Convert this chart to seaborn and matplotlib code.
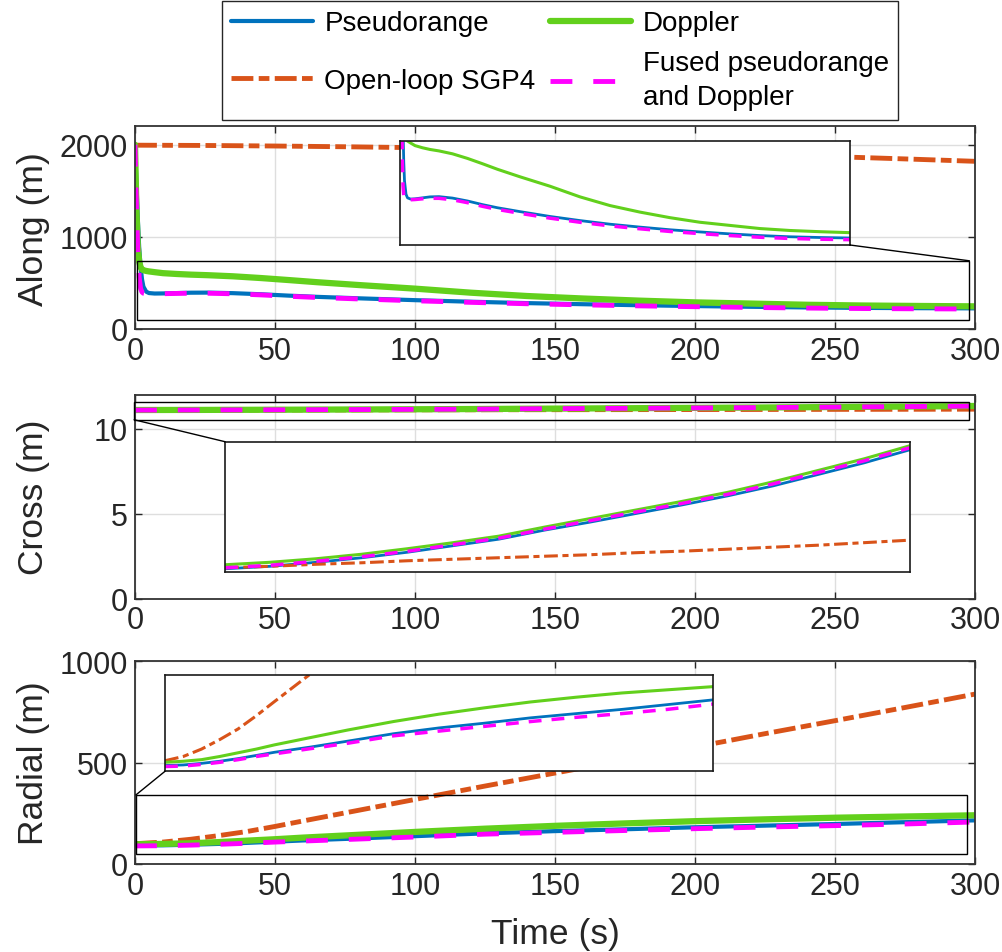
import seaborn as sns
import matplotlib.pyplot as plt
from matplotlib.patches import Rectangle, ConnectionPatch

# ---- Along-track error (m) ----
t_along = [0, 0.5, 1, 1.5, 2, 2.5, 3, 4, 5, 7, 10, 15, 20, 26, 35, 45, 55, 65, 80,
           100, 120, 140, 160, 180, 200, 220, 240, 260, 280, 300]
along_pr = [2000, 1600, 1200, 880, 680, 540, 460, 405, 390, 385, 386, 390, 394, 395, 389,
            377, 362, 349, 333, 313, 296, 281, 269, 258, 249, 241, 234, 229, 226, 224]
along_dop = [2000, 1300, 900, 730, 670, 648, 638, 630, 625, 617, 606, 597, 590, 584, 572,
             553, 531, 508, 477, 438, 394, 358, 331, 308, 289, 276, 263, 255, 250, 246]
along_fused = [2000, 1350, 850, 560, 440, 400, 388, 382, 381, 382, 383, 386, 388, 388, 382,
               370, 355, 342, 326, 306, 289, 274, 262, 251, 242, 234, 227, 222, 219, 217]
t_along_sgp4 = [0, 25, 50, 75, 100, 125, 150, 175, 200, 225, 250, 275, 300]
along_sgp4 = [1995, 1992, 1986, 1978, 1968, 1957, 1944, 1929, 1911, 1892, 1870, 1846, 1820]

# ---- Cross-track error (m) ----
t_cross = [0, 20, 40, 60, 80, 100, 120, 140, 160, 180, 200, 220, 240, 260, 280, 300]
cross_fused = [11.109, 11.114, 11.122, 11.131, 11.142, 11.155, 11.168, 11.186, 11.203,
               11.220, 11.237, 11.255, 11.276, 11.299, 11.322, 11.348]
cross_dop = [11.115, 11.120, 11.127, 11.136, 11.147, 11.159, 11.172, 11.190, 11.207,
             11.224, 11.241, 11.259, 11.280, 11.303, 11.326, 11.352]
cross_pr = [11.107, 11.112, 11.120, 11.129, 11.140, 11.153, 11.166, 11.184, 11.200,
            11.217, 11.234, 11.252, 11.272, 11.295, 11.318, 11.344]
cross_sgp4 = [11.109, 11.112, 11.116, 11.119, 11.123, 11.126, 11.129, 11.132, 11.135,
              11.139, 11.142, 11.146, 11.150, 11.154, 11.159, 11.164]

# ---- Radial error (m) ----
t_radial = [0, 10, 20, 30, 40, 50, 60, 80, 100, 125, 150, 175, 200, 225, 250, 275, 300]
radial_pr = [91, 92, 95, 99, 104, 110, 116, 126, 137, 151, 162, 171, 181, 189, 197, 206, 215]
radial_dop = [97, 99, 102, 108, 115, 122, 130, 144, 158, 174, 188, 200, 211, 220, 228, 234, 240]
radial_fused = [89, 90, 93, 97, 102, 108, 113, 123, 133, 147, 156, 165, 174, 182, 189, 197, 207]
radial_sgp4 = [100, 108, 122, 140, 160, 185, 212, 265, 318, 384, 448, 512, 576, 642, 706, 771, 837]

xticks = [0, 50, 100, 150, 200, 250, 300]
labels = ['Pseudorange', 'Open-loop SGP4', 'Doppler', 'Fused pseudorange\nand Doppler']

sns.set_theme(style='white')
plt.rcParams['font.family'] = ['Liberation Sans', 'DejaVu Sans']

C_PR, C_SGP, C_DOP, C_FUS = '#0072BD', '#D95319', '#62D01C', '#FF00FF'
main_style = {
    'pr': dict(color=C_PR, linewidth=3.0, linestyle='-'),
    'sgp': dict(color=C_SGP, linewidth=3.5, linestyle=(0, (4.5, 1.1, 2.2, 1.1))),
    'dop': dict(color=C_DOP, linewidth=4.5, linestyle='-'),
    'fus': dict(color=C_FUS, linewidth=3.5, linestyle=(0, (4.5, 4.3))),
}
inset_style = {
    'pr': dict(color=C_PR, linewidth=2.0, linestyle='-'),
    'sgp': dict(color=C_SGP, linewidth=2.2, linestyle=(0, (4.5, 1.5, 2.0, 1.5))),
    'dop': dict(color=C_DOP, linewidth=2.2, linestyle='-'),
    'fus': dict(color=C_FUS, linewidth=2.5, linestyle=(0, (3.7, 2.9))),
}

W, H = 1003, 953
fig = plt.figure(figsize=(W / 100, H / 100), dpi=100)


def px_rect(x0, y0, x1, y1):
    return [x0 / W, 1 - y1 / H, (x1 - x0) / W, (y1 - y0) / H]


def draw_all(ax, series, styles):
    for key in ['pr', 'sgp', 'dop', 'fus']:
        t, y = series[key]
        sns.lineplot(x=t, y=y, ax=ax, estimator=None, sort=False, legend=False, **styles[key])


def style_main(ax, ylim, yticks, ylabel):
    ax.set_xlim(0, 300)
    ax.set_ylim(*ylim)
    ax.set_xticks(xticks)
    ax.set_yticks(yticks)
    ax.grid(True, color='#dedede', linewidth=1.0)
    ax.set_axisbelow(True)
    ax.tick_params(direction='in', top=True, right=True, bottom=True, left=True,
                   length=5, width=1.0, color='#262626', labelsize=22,
                   labelcolor='#262626', pad=5)
    for s in ax.spines.values():
        s.set_color('#333333')
        s.set_linewidth(1.3)
    ax.set_ylabel(ylabel, fontsize=25.5, color='#262626')
    ax.yaxis.set_label_coords(-0.101, 0.5)
    ax.set_xlabel('')


def make_inset(rect, ylim):
    ins = fig.add_axes(rect, zorder=5)
    ins.set_facecolor('white')
    ins.set_xlim(0, 300)
    ins.set_ylim(*ylim)
    ins.set_xticks([])
    ins.set_yticks([])
    ins.grid(False)
    for s in ins.spines.values():
        s.set_color('#1a1a1a')
        s.set_linewidth(1.2)
    return ins


along = {'pr': (t_along, along_pr), 'sgp': (t_along_sgp4, along_sgp4),
         'dop': (t_along, along_dop), 'fus': (t_along, along_fused)}
cross = {'pr': (t_cross, cross_pr), 'sgp': (t_cross, cross_sgp4),
         'dop': (t_cross, cross_dop), 'fus': (t_cross, cross_fused)}
radial = {'pr': (t_radial, radial_pr), 'sgp': (t_radial, radial_sgp4),
          'dop': (t_radial, radial_dop), 'fus': (t_radial, radial_fused)}

ax1 = fig.add_axes(px_rect(135, 127.3, 975, 330))
ax2 = fig.add_axes(px_rect(135, 396, 975, 599.5))
ax3 = fig.add_axes(px_rect(135, 662, 975, 865))

draw_all(ax1, along, main_style)
draw_all(ax2, cross, main_style)
draw_all(ax3, radial, main_style)

style_main(ax1, (0, 2200), [0, 1000, 2000], 'Along (m)')
style_main(ax2, (0, 12), [0, 5, 10], 'Cross (m)')
style_main(ax3, (0, 1000), [0, 500, 1000], 'Radial (m)')
ax3.set_xlabel('Time (s)', fontsize=25.5, color='#262626')
ax3.xaxis.set_label_coords(0.5, -0.262)

# zoom boxes and insets
box_kw = dict(fill=False, edgecolor='black', linewidth=1.0, zorder=4)
ax1.add_patch(Rectangle((0.6, 97), 297.4, 643, **box_kw))
ax2.add_patch(Rectangle((-0.3, 10.54), 298.3, 1.03, clip_on=False, **box_kw))
ax3.add_patch(Rectangle((0.3, 49), 296.7, 291, **box_kw))

ins1 = make_inset(px_rect(400, 142, 850, 246), (195, 625))
ins2 = make_inset(px_rect(225, 442.7, 910, 573.3), (11.1, 11.36))
ins3 = make_inset(px_rect(165, 676, 713, 772.3), (80, 262))
draw_all(ins1, along, inset_style)
draw_all(ins2, cross, inset_style)
draw_all(ins3, radial, inset_style)
for ins in (ins1, ins2, ins3):
    ins.set_xlabel('')
    ins.set_ylabel('')

for ins, ax, a, b in [(ins1, ax1, (1, 0), (298, 740)),
                      (ins2, ax2, (0, 1), (-0.3, 10.54)),
                      (ins3, ax3, (0, 0), (0.3, 340))]:
    con = ConnectionPatch(xyA=a, coordsA=ins.transAxes, xyB=b, coordsB=ax.transData,
                          color='black', linewidth=1.0, zorder=6)
    fig.add_artist(con)

# legend
lines = ax1.get_lines()
handles = [lines[0], lines[1], lines[2], lines[3]]
leg = fig.legend(handles=handles, labels=labels, ncol=2, loc='upper center',
                 bbox_to_anchor=(560 / W, 1 - 1.7 / H), fontsize=20, frameon=True,
                 fancybox=False, framealpha=1, edgecolor='#262626',
                 handlelength=2.95, handletextpad=0.4, columnspacing=0.5,
                 borderpad=0.35, labelspacing=0.5, borderaxespad=0)
leg.get_frame().set_linewidth(1.0)
for txt in leg.get_texts():
    txt.set_color('black')
    txt.set_linespacing(1.4)
# centre the single-line "Open-loop SGP4" entry on the two-line entry beside it
step = 20 * 0.9 * 1.4
leg._legend_handle_box.get_children()[0].sep += step / 2

fig.savefig('out.png', dpi=100)
